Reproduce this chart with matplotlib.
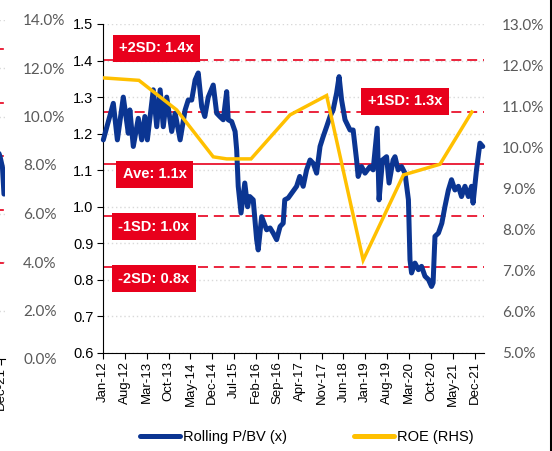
import matplotlib.pyplot as plt
from matplotlib.lines import Line2D

# Rolling P/BV (x) - month index from Jan-12
pbv_month = [0.1, 3.3, 4.6, 6.5, 8.1, 8.6, 9.7, 11.3, 12.4, 13.4,
             14.2, 16.1, 17.2, 18.3, 19.3, 20.4, 22.0, 23.1, 24.7, 26.3,
             27.3, 28.4, 29.5, 30.5, 31.6, 32.6, 33.7, 35.3, 36.4, 37.4,
             38.5, 39.6, 40.1, 41.2, 42.3, 42.8, 43.3, 44.2, 45.4, 46.3,
             47.0, 48.1, 49.2, 49.7, 50.8, 52.4, 53.5, 54.5, 55.6, 56.7,
             57.7, 58.2, 59.3, 60.4, 62.0, 63.0, 64.1, 65.2, 66.3, 67.3,
             68.4, 69.5, 70.5, 71.6, 72.7, 73.7, 74.8, 75.6, 76.4, 77.5,
             79.1, 80.1, 81.2, 81.7, 82.8, 83.9, 85.5, 86.5, 87.8, 88.4,
             89.5, 90.8, 91.6, 92.9, 93.5, 94.5, 95.6, 96.7, 97.8, 98.3,
             98.8, 99.9, 101.0, 102.0, 103.1, 104.2, 105.2, 105.7, 106.3, 107.4,
             108.5, 109.5, 110.6, 111.6, 112.7, 113.8, 114.8, 115.9, 117.0, 118.0,
             118.5, 119.6, 120.7, 121.6]
pbv = [1.183, 1.283, 1.183, 1.300, 1.201, 1.265, 1.165, 1.242, 1.183, 1.247,
       1.183, 1.320, 1.219, 1.320, 1.219, 1.300, 1.206, 1.256, 1.183, 1.265,
       1.292, 1.292, 1.347, 1.366, 1.274, 1.247, 1.300, 1.333, 1.256, 1.247,
       1.238, 1.315, 1.238, 1.233, 1.206, 1.156, 1.056, 0.983, 1.065, 1.000,
       1.028, 1.019, 0.910, 0.882, 0.973, 0.937, 0.942, 0.928, 0.910, 0.946,
       0.955, 1.019, 1.024, 1.037, 1.056, 1.083, 1.056, 1.101, 1.128, 1.119,
       1.092, 1.165, 1.192, 1.219, 1.247, 1.265, 1.311, 1.356, 1.292, 1.238,
       1.210, 1.210, 1.128, 1.083, 1.110, 1.092, 1.110, 1.101, 1.215, 1.019,
       1.128, 1.137, 1.065, 1.128, 1.137, 1.101, 1.110, 1.092, 1.019, 0.855,
       0.819, 0.846, 0.828, 0.837, 0.810, 0.801, 0.782, 0.792, 0.919, 0.928,
       0.955, 1.001, 1.046, 1.074, 1.046, 1.056, 1.028, 1.056, 1.028, 1.056,
       1.010, 1.101, 1.174, 1.165]

# ROE (RHS), %
roe_month = [0, 11.5, 23.6, 35.3, 39.6, 47.4, 59.9, 71.6, 83.3, 96.2, 107.9, 118.1]
roe = [11.69, 11.63, 10.91, 9.77, 9.72, 9.72, 10.79, 11.26, 7.26, 9.33, 9.59, 10.86]

# mean and std bands
ave = 1.1175
sd = 0.1415
band_names = ['+2SD: 1.4x', '+1SD: 1.3x', 'Ave: 1.1x', '-1SD: 1.0x', '-2SD: 0.8x']
band_values = [ave + 2 * sd, ave + sd, ave, ave - sd, ave - 2 * sd]

tick_months = list(range(0, 120, 7))
tick_labels = ['Jan-12', 'Aug-12', 'Mar-13', 'Oct-13', 'May-14', 'Dec-14', 'Jul-15',
               'Feb-16', 'Sep-16', 'Apr-17', 'Nov-17', 'Jun-18', 'Jan-19', 'Aug-19',
               'Mar-20', 'Oct-20', 'May-21', 'Dec-21']

# sliver of the neighbouring chart on the left edge
side_ticks = [0, 2, 4, 6, 8, 10, 12, 14]
side_bands = [12.8, 10.54, 8.38, 6.16, 3.97]
side_x = [0.939, 0.957, 0.978, 0.991]
side_y = [8.6, 8.35, 7.9, 6.8]

blue = '#0B3592'
yellow = '#FFC000'
red = '#E8001C'
grid_col = '#D9D9D9'
grey_txt = '#595959'

plt.rcParams['font.family'] = ['Liberation Sans', 'DejaVu Sans']

W, H = 552, 451
fig = plt.figure(figsize=(W / 100, H / 100), dpi=100)

# main chart
ax = fig.add_axes([103 / W, 1 - 353 / H, (484 - 103) / W, (353 - 24) / H])
ax.set_xlim(0, 122)
ax.set_ylim(0.6, 1.5)
ax.set_yticks([0.6 + 0.1 * i for i in range(10)])
ax.set_yticklabels(['%.1f' % (0.6 + 0.1 * i) for i in range(10)])
ax.yaxis.grid(True, color=grid_col, linestyle=(0, (1, 2)), linewidth=1)
ax.set_axisbelow(True)
for s in ['top', 'right']:
    ax.spines[s].set_visible(False)
ax.spines['left'].set_color('black')
ax.spines['bottom'].set_color('black')
ax.tick_params(axis='y', length=4, labelsize=10.5, colors='black', pad=3)
ax.set_xticks(tick_months)
ax.set_xticklabels(tick_labels, rotation=90)
ax.tick_params(axis='x', length=4, labelsize=9.5, pad=2)

for i, (name, v) in enumerate(zip(band_names, band_values)):
    if name.startswith('Ave'):
        ax.axhline(v, color=red, linewidth=1.2, zorder=2)
    else:
        ax.axhline(v, color=red, linewidth=1.2, dashes=(6, 3.5), zorder=2)

ax.plot(pbv_month, pbv, color=blue, linewidth=3.6, solid_capstyle='round',
        solid_joinstyle='round', zorder=3, label='Rolling P/BV (x)', clip_on=False)

# band labels (red boxes)
label_pos = [(17.1, 1.434), (96.7, 1.288), (16.6, 1.089), (16.2, 0.945), (16.3, 0.803)]
for name, (lx, ly) in zip(band_names, label_pos):
    ax.text(lx, ly, name, color='white', fontsize=10.5, fontweight='bold',
            ha='center', va='center', zorder=6,
            bbox=dict(boxstyle='square,pad=0.45', fc=red, ec='none'))

ax2 = ax.twinx()
ax2.set_ylim(5, 13)
ax2.set_yticks(range(5, 14))
ax2.set_yticklabels(['%.1f%%' % v for v in range(5, 14)],
                    fontfamily=['Lato', 'DejaVu Sans'])
for s in ax2.spines.values():
    s.set_visible(False)
ax2.tick_params(axis='y', length=0, labelsize=11, colors=grey_txt, pad=13)
ax2.plot(roe_month, roe, color=yellow, linewidth=2.5, solid_joinstyle='miter',
         zorder=4, label='ROE (RHS)')

# left neighbour sliver
axl = fig.add_axes([-0.2, 1 - 359 / H, 0.2 + 5 / W, (359 - 19.5) / H])
axl.set_xlim(0, 1)
axl.set_ylim(0, 14)
axl.set_yticks(side_ticks)
axl.set_yticklabels(['%.1f%%' % v for v in side_ticks], fontfamily=['Lato', 'DejaVu Sans'])
axl.yaxis.tick_right()
axl.yaxis.grid(True, color=grid_col, linestyle=(0, (1, 2)), linewidth=1)
axl.tick_params(axis='y', length=0, labelsize=11, colors=grey_txt, pad=13)
for s in ['top', 'right', 'left']:
    axl.spines[s].set_visible(False)
axl.spines['bottom'].set_color('black')
for v in side_bands:
    axl.plot([0.9, 0.983], [v, v], color=red, linewidth=1.2)
axl.plot(side_x, side_y, color=blue, linewidth=3.6, solid_capstyle='round')
axl.set_xticks([0.965])
axl.set_xticklabels(['Dec-21'], rotation=90)
axl.tick_params(axis='x', length=4, labelsize=9.5, pad=2)

# legend
h1 = Line2D([], [], color=blue, linewidth=3.6, solid_capstyle='round')
h2 = Line2D([], [], color=yellow, linewidth=3.6, solid_capstyle='round')
fig.legend([h1, h2], ['Rolling P/BV (x)', 'ROE (RHS)'], loc='center',
           bbox_to_anchor=(307 / W, 1 - 437 / H), ncol=2, frameon=False,
           fontsize=10.5, handlelength=2.7, handletextpad=0.25, columnspacing=4.6)

# frame edge on the right
fig.add_artist(Line2D([550.5 / W, 550.5 / W], [0, 1], color='black', linewidth=2.2))

fig.savefig('out.png', dpi=100)
